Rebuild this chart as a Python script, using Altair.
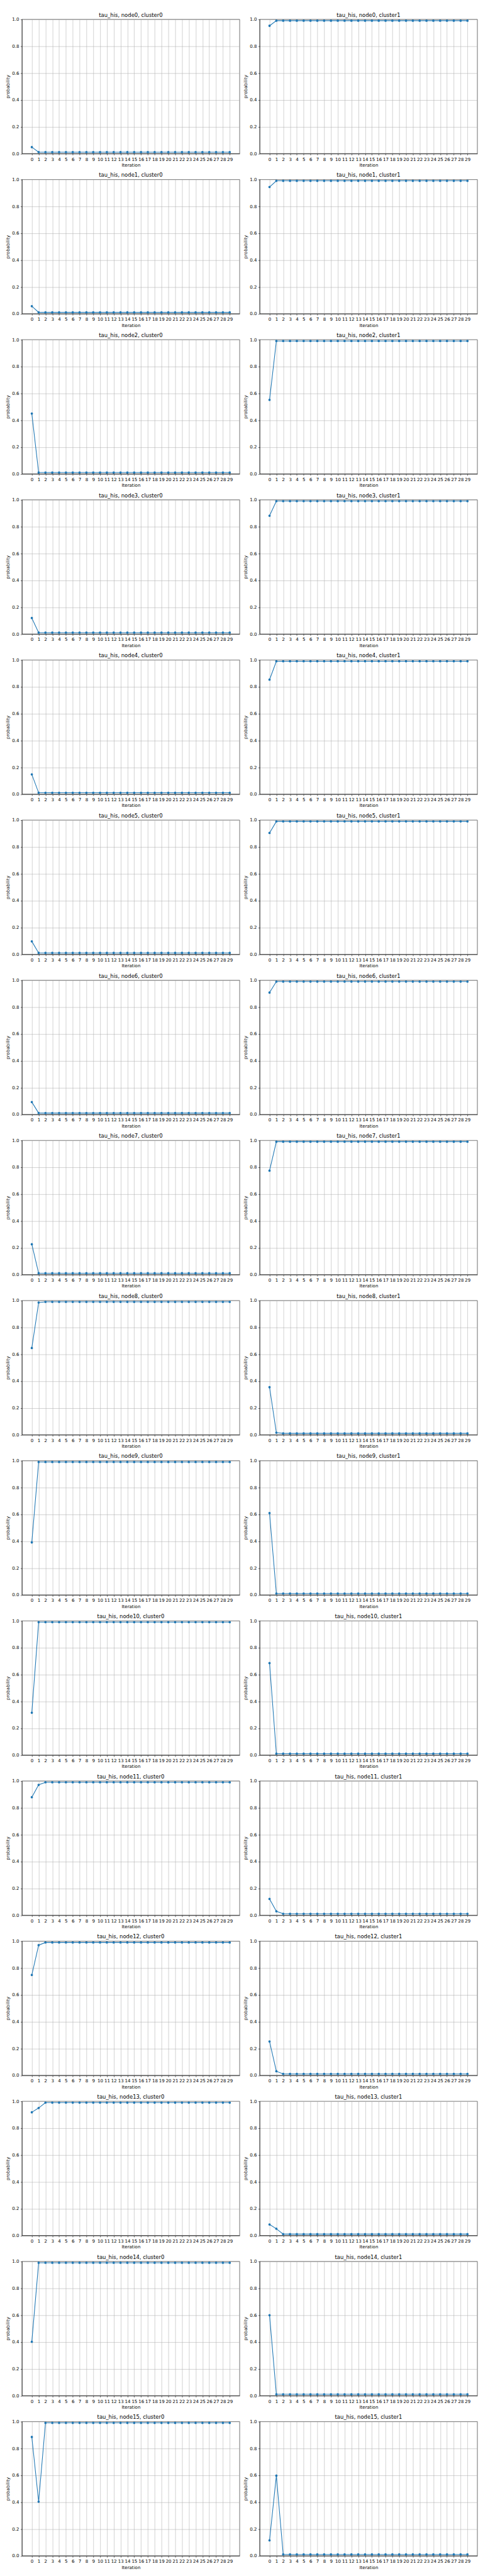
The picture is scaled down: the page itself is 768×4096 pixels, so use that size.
import altair as alt
import pandas as pd

iterations = list(range(30))
y_ticks = [0.0, 0.2, 0.4, 0.6, 0.8, 1.0]

# probability per iteration
node0_cluster0 = [0.048, 0.01, 0.01, 0.01, 0.01, 0.01, 0.01, 0.01, 0.01, 0.01,
                  0.01, 0.01, 0.01, 0.01, 0.01, 0.01, 0.01, 0.01, 0.01, 0.01,
                  0.01, 0.01, 0.01, 0.01, 0.01, 0.01, 0.01, 0.01, 0.01, 0.01]
node0_cluster1 = [0.952, 0.99, 0.99, 0.99, 0.99, 0.99, 0.99, 0.99, 0.99, 0.99,
                  0.99, 0.99, 0.99, 0.99, 0.99, 0.99, 0.99, 0.99, 0.99, 0.99,
                  0.99, 0.99, 0.99, 0.99, 0.99, 0.99, 0.99, 0.99, 0.99, 0.99]
node1_cluster0 = [0.056, 0.01, 0.01, 0.01, 0.01, 0.01, 0.01, 0.01, 0.01, 0.01,
                  0.01, 0.01, 0.01, 0.01, 0.01, 0.01, 0.01, 0.01, 0.01, 0.01,
                  0.01, 0.01, 0.01, 0.01, 0.01, 0.01, 0.01, 0.01, 0.01, 0.01]
node1_cluster1 = [0.944, 0.99, 0.99, 0.99, 0.99, 0.99, 0.99, 0.99, 0.99, 0.99,
                  0.99, 0.99, 0.99, 0.99, 0.99, 0.99, 0.99, 0.99, 0.99, 0.99,
                  0.99, 0.99, 0.99, 0.99, 0.99, 0.99, 0.99, 0.99, 0.99, 0.99]
node2_cluster0 = [0.449, 0.01, 0.01, 0.01, 0.01, 0.01, 0.01, 0.01, 0.01, 0.01,
                  0.01, 0.01, 0.01, 0.01, 0.01, 0.01, 0.01, 0.01, 0.01, 0.01,
                  0.01, 0.01, 0.01, 0.01, 0.01, 0.01, 0.01, 0.01, 0.01, 0.01]
node2_cluster1 = [0.551, 0.99, 0.99, 0.99, 0.99, 0.99, 0.99, 0.99, 0.99, 0.99,
                  0.99, 0.99, 0.99, 0.99, 0.99, 0.99, 0.99, 0.99, 0.99, 0.99,
                  0.99, 0.99, 0.99, 0.99, 0.99, 0.99, 0.99, 0.99, 0.99, 0.99]
node3_cluster0 = [0.119, 0.01, 0.01, 0.01, 0.01, 0.01, 0.01, 0.01, 0.01, 0.01,
                  0.01, 0.01, 0.01, 0.01, 0.01, 0.01, 0.01, 0.01, 0.01, 0.01,
                  0.01, 0.01, 0.01, 0.01, 0.01, 0.01, 0.01, 0.01, 0.01, 0.01]
node3_cluster1 = [0.881, 0.99, 0.99, 0.99, 0.99, 0.99, 0.99, 0.99, 0.99, 0.99,
                  0.99, 0.99, 0.99, 0.99, 0.99, 0.99, 0.99, 0.99, 0.99, 0.99,
                  0.99, 0.99, 0.99, 0.99, 0.99, 0.99, 0.99, 0.99, 0.99, 0.99]
node4_cluster0 = [0.147, 0.01, 0.01, 0.01, 0.01, 0.01, 0.01, 0.01, 0.01, 0.01,
                  0.01, 0.01, 0.01, 0.01, 0.01, 0.01, 0.01, 0.01, 0.01, 0.01,
                  0.01, 0.01, 0.01, 0.01, 0.01, 0.01, 0.01, 0.01, 0.01, 0.01]
node4_cluster1 = [0.853, 0.99, 0.99, 0.99, 0.99, 0.99, 0.99, 0.99, 0.99, 0.99,
                  0.99, 0.99, 0.99, 0.99, 0.99, 0.99, 0.99, 0.99, 0.99, 0.99,
                  0.99, 0.99, 0.99, 0.99, 0.99, 0.99, 0.99, 0.99, 0.99, 0.99]
node5_cluster0 = [0.096, 0.01, 0.01, 0.01, 0.01, 0.01, 0.01, 0.01, 0.01, 0.01,
                  0.01, 0.01, 0.01, 0.01, 0.01, 0.01, 0.01, 0.01, 0.01, 0.01,
                  0.01, 0.01, 0.01, 0.01, 0.01, 0.01, 0.01, 0.01, 0.01, 0.01]
node5_cluster1 = [0.904, 0.99, 0.99, 0.99, 0.99, 0.99, 0.99, 0.99, 0.99, 0.99,
                  0.99, 0.99, 0.99, 0.99, 0.99, 0.99, 0.99, 0.99, 0.99, 0.99,
                  0.99, 0.99, 0.99, 0.99, 0.99, 0.99, 0.99, 0.99, 0.99, 0.99]
node6_cluster0 = [0.092, 0.01, 0.01, 0.01, 0.01, 0.01, 0.01, 0.01, 0.01, 0.01,
                  0.01, 0.01, 0.01, 0.01, 0.01, 0.01, 0.01, 0.01, 0.01, 0.01,
                  0.01, 0.01, 0.01, 0.01, 0.01, 0.01, 0.01, 0.01, 0.01, 0.01]
node6_cluster1 = [0.908, 0.99, 0.99, 0.99, 0.99, 0.99, 0.99, 0.99, 0.99, 0.99,
                  0.99, 0.99, 0.99, 0.99, 0.99, 0.99, 0.99, 0.99, 0.99, 0.99,
                  0.99, 0.99, 0.99, 0.99, 0.99, 0.99, 0.99, 0.99, 0.99, 0.99]
node7_cluster0 = [0.226, 0.01, 0.01, 0.01, 0.01, 0.01, 0.01, 0.01, 0.01, 0.01,
                  0.01, 0.01, 0.01, 0.01, 0.01, 0.01, 0.01, 0.01, 0.01, 0.01,
                  0.01, 0.01, 0.01, 0.01, 0.01, 0.01, 0.01, 0.01, 0.01, 0.01]
node7_cluster1 = [0.774, 0.99, 0.99, 0.99, 0.99, 0.99, 0.99, 0.99, 0.99, 0.99,
                  0.99, 0.99, 0.99, 0.99, 0.99, 0.99, 0.99, 0.99, 0.99, 0.99,
                  0.99, 0.99, 0.99, 0.99, 0.99, 0.99, 0.99, 0.99, 0.99, 0.99]
node8_cluster0 = [0.646, 0.985, 0.99, 0.99, 0.99, 0.99, 0.99, 0.99, 0.99, 0.99,
                  0.99, 0.99, 0.99, 0.99, 0.99, 0.99, 0.99, 0.99, 0.99, 0.99,
                  0.99, 0.99, 0.99, 0.99, 0.99, 0.99, 0.99, 0.99, 0.99, 0.99]
node8_cluster1 = [0.354, 0.015, 0.01, 0.01, 0.01, 0.01, 0.01, 0.01, 0.01, 0.01,
                  0.01, 0.01, 0.01, 0.01, 0.01, 0.01, 0.01, 0.01, 0.01, 0.01,
                  0.01, 0.01, 0.01, 0.01, 0.01, 0.01, 0.01, 0.01, 0.01, 0.01]
node9_cluster0 = [0.391, 0.99, 0.99, 0.99, 0.99, 0.99, 0.99, 0.99, 0.99, 0.99,
                  0.99, 0.99, 0.99, 0.99, 0.99, 0.99, 0.99, 0.99, 0.99, 0.99,
                  0.99, 0.99, 0.99, 0.99, 0.99, 0.99, 0.99, 0.99, 0.99, 0.99]
node9_cluster1 = [0.609, 0.01, 0.01, 0.01, 0.01, 0.01, 0.01, 0.01, 0.01, 0.01,
                  0.01, 0.01, 0.01, 0.01, 0.01, 0.01, 0.01, 0.01, 0.01, 0.01,
                  0.01, 0.01, 0.01, 0.01, 0.01, 0.01, 0.01, 0.01, 0.01, 0.01]
node10_cluster0 = [0.315, 0.99, 0.99, 0.99, 0.99, 0.99, 0.99, 0.99, 0.99, 0.99,
                   0.99, 0.99, 0.99, 0.99, 0.99, 0.99, 0.99, 0.99, 0.99, 0.99,
                   0.99, 0.99, 0.99, 0.99, 0.99, 0.99, 0.99, 0.99, 0.99, 0.99]
node10_cluster1 = [0.685, 0.01, 0.01, 0.01, 0.01, 0.01, 0.01, 0.01, 0.01, 0.01,
                   0.01, 0.01, 0.01, 0.01, 0.01, 0.01, 0.01, 0.01, 0.01, 0.01,
                   0.01, 0.01, 0.01, 0.01, 0.01, 0.01, 0.01, 0.01, 0.01, 0.01]
node11_cluster0 = [0.879, 0.971, 0.99, 0.99, 0.99, 0.99, 0.99, 0.99, 0.99, 0.99,
                   0.99, 0.99, 0.99, 0.99, 0.99, 0.99, 0.99, 0.99, 0.99, 0.99,
                   0.99, 0.99, 0.99, 0.99, 0.99, 0.99, 0.99, 0.99, 0.99, 0.99]
node11_cluster1 = [0.121, 0.029, 0.01, 0.01, 0.01, 0.01, 0.01, 0.01, 0.01, 0.01,
                   0.01, 0.01, 0.01, 0.01, 0.01, 0.01, 0.01, 0.01, 0.01, 0.01,
                   0.01, 0.01, 0.01, 0.01, 0.01, 0.01, 0.01, 0.01, 0.01, 0.01]
node12_cluster0 = [0.748, 0.970, 0.99, 0.99, 0.99, 0.99, 0.99, 0.99, 0.99, 0.99,
                   0.99, 0.99, 0.99, 0.99, 0.99, 0.99, 0.99, 0.99, 0.99, 0.99,
                   0.99, 0.99, 0.99, 0.99, 0.99, 0.99, 0.99, 0.99, 0.99, 0.99]
node12_cluster1 = [0.252, 0.030, 0.01, 0.01, 0.01, 0.01, 0.01, 0.01, 0.01, 0.01,
                   0.01, 0.01, 0.01, 0.01, 0.01, 0.01, 0.01, 0.01, 0.01, 0.01,
                   0.01, 0.01, 0.01, 0.01, 0.01, 0.01, 0.01, 0.01, 0.01, 0.01]
node13_cluster0 = [0.918, 0.950, 0.99, 0.99, 0.99, 0.99, 0.99, 0.99, 0.99, 0.99,
                   0.99, 0.99, 0.99, 0.99, 0.99, 0.99, 0.99, 0.99, 0.99, 0.99,
                   0.99, 0.99, 0.99, 0.99, 0.99, 0.99, 0.99, 0.99, 0.99, 0.99]
node13_cluster1 = [0.082, 0.050, 0.01, 0.01, 0.01, 0.01, 0.01, 0.01, 0.01, 0.01,
                   0.01, 0.01, 0.01, 0.01, 0.01, 0.01, 0.01, 0.01, 0.01, 0.01,
                   0.01, 0.01, 0.01, 0.01, 0.01, 0.01, 0.01, 0.01, 0.01, 0.01]
node14_cluster0 = [0.401, 0.99, 0.99, 0.99, 0.99, 0.99, 0.99, 0.99, 0.99, 0.99,
                   0.99, 0.99, 0.99, 0.99, 0.99, 0.99, 0.99, 0.99, 0.99, 0.99,
                   0.99, 0.99, 0.99, 0.99, 0.99, 0.99, 0.99, 0.99, 0.99, 0.99]
node14_cluster1 = [0.599, 0.01, 0.01, 0.01, 0.01, 0.01, 0.01, 0.01, 0.01, 0.01,
                   0.01, 0.01, 0.01, 0.01, 0.01, 0.01, 0.01, 0.01, 0.01, 0.01,
                   0.01, 0.01, 0.01, 0.01, 0.01, 0.01, 0.01, 0.01, 0.01, 0.01]
node15_cluster0 = [0.885, 0.403, 0.99, 0.99, 0.99, 0.99, 0.99, 0.99, 0.99, 0.99,
                   0.99, 0.99, 0.99, 0.99, 0.99, 0.99, 0.99, 0.99, 0.99, 0.99,
                   0.99, 0.99, 0.99, 0.99, 0.99, 0.99, 0.99, 0.99, 0.99, 0.99]
node15_cluster1 = [0.115, 0.597, 0.01, 0.01, 0.01, 0.01, 0.01, 0.01, 0.01, 0.01,
                   0.01, 0.01, 0.01, 0.01, 0.01, 0.01, 0.01, 0.01, 0.01, 0.01,
                   0.01, 0.01, 0.01, 0.01, 0.01, 0.01, 0.01, 0.01, 0.01, 0.01]

series = {
    (0, 0): node0_cluster0, (0, 1): node0_cluster1,
    (1, 0): node1_cluster0, (1, 1): node1_cluster1,
    (2, 0): node2_cluster0, (2, 1): node2_cluster1,
    (3, 0): node3_cluster0, (3, 1): node3_cluster1,
    (4, 0): node4_cluster0, (4, 1): node4_cluster1,
    (5, 0): node5_cluster0, (5, 1): node5_cluster1,
    (6, 0): node6_cluster0, (6, 1): node6_cluster1,
    (7, 0): node7_cluster0, (7, 1): node7_cluster1,
    (8, 0): node8_cluster0, (8, 1): node8_cluster1,
    (9, 0): node9_cluster0, (9, 1): node9_cluster1,
    (10, 0): node10_cluster0, (10, 1): node10_cluster1,
    (11, 0): node11_cluster0, (11, 1): node11_cluster1,
    (12, 0): node12_cluster0, (12, 1): node12_cluster1,
    (13, 0): node13_cluster0, (13, 1): node13_cluster1,
    (14, 0): node14_cluster0, (14, 1): node14_cluster1,
    (15, 0): node15_cluster0, (15, 1): node15_cluster1,
}

BLUE = "#1f77b4"
FONT = "DejaVu Sans"
W, H = 348, 214.5


def panel(values, title):
    df = pd.DataFrame({"iteration": iterations, "probability": values})
    base = alt.Chart(df).encode(
        x=alt.X(
            "iteration:Q",
            scale=alt.Scale(domain=[-1.45, 30.45], nice=False, zero=False),
            axis=alt.Axis(values=iterations, format="d", title="Iteration",
                          labelOverlap=False, labelFlush=False, titlePadding=2.3),
        ),
        y=alt.Y(
            "probability:Q",
            scale=alt.Scale(domain=[0, 1], nice=False),
            axis=alt.Axis(values=y_ticks, format=".1f", title="probability",
                          titlePadding=2.8),
        ),
    )
    line = base.mark_line(color=BLUE, strokeWidth=1.07)
    pts = base.mark_circle(color=BLUE, size=14.3, opacity=1)
    ttl = alt.Chart(pd.DataFrame({"t": [title]})).mark_text(
        font=FONT, fontSize=8.5, color="black", align="center", baseline="alphabetic"
    ).encode(text="t:N", x=alt.value(W / 2), y=alt.value(-4.1))
    return alt.layer(line, pts, ttl).properties(width=W, height=H)


panels = []
for n in range(16):
    for c in range(2):
        panels.append(panel(series[(n, c)], f"tau_his, node{n}, cluster{c}"))

chart = (
    alt.concat(*panels, columns=2, spacing={"row": 41, "column": 32}, bounds="flush")
    .properties(padding={"left": 0, "top": 0, "right": 0, "bottom": 0})
    .configure_view(stroke="black", strokeWidth=0.57)
    .configure_axis(
        labelFont=FONT, labelFontSize=7.1, labelColor="black",
        titleFont=FONT, titleFontSize=7.1, titleFontWeight="normal", titleColor="black",
        tickSize=2.5, tickColor="black", tickWidth=0.57,
        labelPadding=2.5,
        domainColor="black", domainWidth=0.57,
        grid=True, gridColor="#b0b0b0", gridWidth=0.57,
    )
)

chart.save("out.html", embed_options={"renderer": "svg", "actions": False})
